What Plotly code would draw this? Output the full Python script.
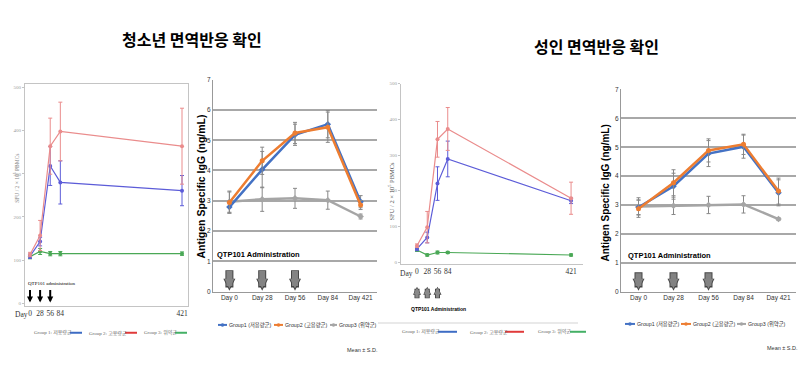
import plotly.graph_objects as go

W, H = 810, 367
def px(x): return x / W
def py(y): return 1 - y / H

# ---------------- data ----------------
days = [0, 28, 56, 84, 421]
day_ticks = ["0", "28", "56", "84", "421"]
day_labels = ["Day 0", "Day 28", "Day 56", "Day 84", "Day 421"]
admin_days = [0, 28, 56]
admin_labels = ["Day 0", "Day 28", "Day 56"]
spot_ticks = [0, 100, 200, 300, 400, 500]
igg_ticks = [0, 1, 2, 3, 4, 5, 6, 7]

# Youth ELISPOT (SFU / 2x10^5 PBMCs)
youth_spot_g1 = [109, 143, 318, 280, 261]
youth_spot_g1_sd = [5, 10, 45, 50, 35]
youth_spot_g2 = [113, 157, 364, 398, 364]
youth_spot_g2_sd = [5, 35, 65, 68, 88]
youth_spot_g3 = [108, 120, 115, 115, 115]
youth_spot_g3_sd = [5, 7, 5, 5, 4]

# Youth IgG (ng/mL)
youth_igg_g1 = [2.79, 4.03, 5.18, 5.53, 2.97]
youth_igg_g1_sd = [0.2, 0.6, 0.35, 0.45, 0.2]
youth_igg_g2 = [2.94, 4.32, 5.24, 5.43, 2.86]
youth_igg_g2_sd = [0.35, 0.45, 0.35, 0.5, 0.15]
youth_igg_g3 = [2.97, 3.05, 3.08, 3.02, 2.48]
youth_igg_g3_sd = [0.35, 0.4, 0.33, 0.3, 0.08]

# Adult ELISPOT
adult_spot_g1 = [37, 69, 220, 289, 172]
adult_spot_g1_sd = [5, 15, 47, 50, 8]
adult_spot_g2 = [46, 98, 344, 373, 179]
adult_spot_g2_sd = [5, 44, 50, 60, 45]
adult_spot_g3 = [34, 20, 27, 27, 20]
adult_spot_g3_sd = [4, 3, 4, 3, 3]

# Adult IgG
adult_igg_g1 = [2.92, 3.65, 4.78, 5.02, 3.42]
adult_igg_g1_sd = [0.25, 0.45, 0.45, 0.4, 0.45]
adult_igg_g2 = [2.87, 3.77, 4.89, 5.10, 3.48]
adult_igg_g2_sd = [0.3, 0.45, 0.4, 0.35, 0.45]
adult_igg_g3 = [2.95, 2.97, 3.00, 3.02, 2.51]
adult_igg_g3_sd = [0.3, 0.3, 0.3, 0.3, 0.05]

spot_legend = ["Group 1: 저용량군", "Group 2: 고용량군", "Group 3: 위약군"]
igg_legend = ["Group1 (저용량군)", "Group2 (고용량군)", "Group3 (위약군)"]

# ---------------- styles ----------------
SPOT_C = ["#5c5cd8", "#ea8c8c", "#4aa856"]
SPOT_LEG_C = ["#3d6cc4", "#e03a3a", "#44b066"]
IGG_C = ["#4472c4", "#ed7d31", "#a5a5a5"]
IGG_SYM = ["diamond", "circle", "diamond"]
SERIF = "Liberation Serif, Noto Sans CJK KR"
SANS = "Liberation Sans, Noto Sans CJK KR"
CJK = "Noto Sans CJK KR"

fig = go.Figure()

def add(x, y, sd, color, xa, ya, width, msize, symbol="circle", ecolor=None):
    fig.add_trace(go.Scatter(
        x=x, y=y, xaxis=xa, yaxis=ya, mode="lines+markers",
        line=dict(color=color, width=width),
        marker=dict(color=color, size=msize, symbol=symbol),
        error_y=dict(type="data", array=sd, visible=True,
                     color=ecolor or color, thickness=1, width=2),
        showlegend=False, hoverinfo="skip"))

# Panel A
for ys, sd, c in [(youth_spot_g3, youth_spot_g3_sd, SPOT_C[2]),
                  (youth_spot_g1, youth_spot_g1_sd, SPOT_C[0]),
                  (youth_spot_g2, youth_spot_g2_sd, SPOT_C[1])]:
    add(days, ys, sd, c, "x", "y", 1.2, 4)
# Panel B
for i, (ys, sd) in enumerate([(youth_igg_g3, youth_igg_g3_sd),
                              (youth_igg_g1, youth_igg_g1_sd),
                              (youth_igg_g2, youth_igg_g2_sd)]):
    idx = [2, 0, 1][i]
    add(day_labels, ys, sd, IGG_C[idx], "x2", "y2", 2.5, 5, IGG_SYM[idx], "#888888")
# Panel C
for ys, sd, c in [(adult_spot_g3, adult_spot_g3_sd, SPOT_C[2]),
                  (adult_spot_g1, adult_spot_g1_sd, SPOT_C[0]),
                  (adult_spot_g2, adult_spot_g2_sd, SPOT_C[1])]:
    add(days, ys, sd, c, "x3", "y3", 1.2, 4)
# Panel D
for i, (ys, sd) in enumerate([(adult_igg_g3, adult_igg_g3_sd),
                              (adult_igg_g1, adult_igg_g1_sd),
                              (adult_igg_g2, adult_igg_g2_sd)]):
    idx = [2, 0, 1][i]
    add(day_labels, ys, sd, IGG_C[idx], "x4", "y4", 2.5, 5, IGG_SYM[idx], "#888888")

frame = "#c4c4c4"
spot_tickfont = dict(family=SERIF, size=7.5, color="#333")
igg_tickfont = dict(family=SANS, size=6.5, color="#333")

layout = dict(
    width=W, height=H, margin=dict(l=0, r=0, t=0, b=0),
    paper_bgcolor="white", plot_bgcolor="white", showlegend=False,
    # Panel A
    xaxis=dict(domain=[px(17), px(180)], range=[-13.85, 437.6], anchor="y",
               tickvals=days, ticktext=day_ticks, tickfont=spot_tickfont, tickangle=0,
               showline=True, mirror=True, linecolor=frame, showgrid=False,
               zeroline=False, ticks=""),
    yaxis=dict(domain=[py(300), py(73)], range=[-7, 509], anchor="x",
               tickvals=spot_ticks, tickfont=dict(family=SERIF, size=5, color="#999"),
               showline=True, mirror=True, linecolor=frame, showgrid=False,
               zeroline=False, ticks="outside", ticklen=2, tickcolor=frame),
    # Panel B
    xaxis2=dict(domain=[px(205), px(369)], type="category", categoryarray=day_labels,
                range=[-0.5, 4.5], anchor="y2", tickfont=igg_tickfont, tickangle=0,
                showline=True, linecolor="#999", linewidth=1, showgrid=False, ticks=""),
    yaxis2=dict(domain=[py(285), py(69)], range=[0, 7], anchor="x2",
                tickvals=igg_ticks, tickfont=igg_tickfont, showgrid=True,
                gridcolor="#a8a8a8", gridwidth=1.6, showline=True, linecolor="#999",
                zeroline=False, ticks=""),
    # Panel C
    xaxis3=dict(domain=[px(393), px(575)], range=[-43.7, 453.6], anchor="y3",
                tickvals=days, ticktext=day_ticks, tickfont=spot_tickfont, tickangle=0,
                showline=True, linecolor=frame, showgrid=False, zeroline=False, ticks=""),
    yaxis3=dict(domain=[py(257), py(73)], range=[-5.5, 500], anchor="x3",
                tickvals=spot_ticks, tickfont=dict(family=SERIF, size=5, color="#999"),
                showline=True, linecolor=frame, showgrid=False, zeroline=False,
                ticks="outside", ticklen=2, tickcolor=frame),
    # Panel D
    xaxis4=dict(domain=[px(613), px(788)], type="category", categoryarray=day_labels,
                range=[-0.5, 4.5], anchor="y4", tickfont=igg_tickfont, tickangle=0,
                showline=True, linecolor="#999", linewidth=1, showgrid=False, ticks=""),
    yaxis4=dict(domain=[py(285), py(79)], range=[0, 7], anchor="x4",
                tickvals=igg_ticks, tickfont=igg_tickfont, showgrid=True,
                gridcolor="#a8a8a8", gridwidth=1.6, showline=True, linecolor="#999",
                zeroline=False, ticks=""),
)
fig.update_layout(**layout)

ann = []
def text(x, y, s, size, family, color="#000", bold=False, xanchor="center", angle=0):
    ann.append(dict(x=px(x), y=py(y), xref="paper", yref="paper", text=("<b>%s</b>" % s) if bold else s,
                    showarrow=False, xanchor=xanchor, yanchor="middle", textangle=angle,
                    font=dict(size=size, family=family, color=color)))

# Titles
text(184, 28, "청소년 면역반응 확인", 16, CJK, bold=True)
text(588, 35, "성인 면역반응 확인", 16, CJK, bold=True)

# Y titles
text(193, 178, "Antigen Specific IgG (ng/mL)", 10.5, "Liberation Sans", bold=True, angle=-90)
text(597, 185, "Antigen Specific IgG (ng/mL)", 10, "Liberation Sans", bold=True, angle=-90)
text(8, 170, "SFU / 2 × 10<sup>5</sup> PBMCs", 5.5, SERIF, color="#888", angle=-90)
text(383, 183, "SFU / 2 × 10<sup>5</sup> PBMCs", 6.5, SERIF, color="#555", angle=-90)

# Day prefixes
text(13, 308, "Day", 7.5, SERIF, color="#333")
text(398, 267, "Day", 7.5, SERIF, color="#333")

# Administration labels
text(18, 277, "QTP101 administration", 5, SERIF, xanchor="left")
text(250, 247, "QTP101 Administration", 7.5, SANS, bold=True)
text(661, 248, "QTP101 Administration", 7.5, SANS, bold=True)
text(430, 303, "QTP101 Administration", 5, SANS, bold=True)

# Mean ± S.D.
text(372, 345, "Mean ± S.D.", 5.5, SANS, color="#333", xanchor="right")
text(792, 343, "Mean ± S.D.", 5.5, SANS, color="#333", xanchor="right")

# Arrows: panel B and D (gray block arrows, downward)
for xa, ya, length in [("x2", "y2", 22), ("x4", "y4", 20)]:
    for lab in admin_labels:
        ann.append(dict(x=lab, y=0.03, xref=xa, yref=ya, ax=0, ay=-length, text="",
                        showarrow=True, arrowhead=2, arrowwidth=8, arrowsize=0.3,
                        arrowcolor="#454545"))
        ann.append(dict(x=lab, y=0.1, xref=xa, yref=ya, ax=0, ay=-length + 3, text="",
                        showarrow=True, arrowhead=2, arrowwidth=6, arrowsize=0.33,
                        arrowcolor="#838383"))
# Panel A: black thin arrows
for d in admin_days:
    ann.append(dict(x=d, y=2, xref="x", yref="y", ax=0, ay=-14, text="",
                    showarrow=True, arrowhead=2, arrowwidth=2, arrowsize=0.6,
                    arrowcolor="#000"))
# Panel C: gray upward arrows below axis
for d in admin_days:
    ann.append(dict(x=d, y=py(280), xref="x3", yref="paper", ax=0, ay=13, text="",
                    showarrow=True, arrowhead=2, arrowwidth=5, arrowsize=0.32,
                    arrowcolor="#3c3c3c"))
    ann.append(dict(x=d, y=py(281.2), xref="x3", yref="paper", ax=0, ay=11.5, text="",
                    showarrow=True, arrowhead=2, arrowwidth=3.4, arrowsize=0.38,
                    arrowcolor="#8a8a8a"))

shapes = []
def hline(x0, x1, y, color, width):
    shapes.append(dict(type="line", xref="paper", yref="paper", x0=px(x0), x1=px(x1),
                       y0=py(y), y1=py(y), line=dict(color=color, width=width)))

# Legends ELISPOT panels
for (tx, lx0, lx1), lab, c in zip([(24, 62, 74), (79, 117, 129), (134, 167, 179)],
                                 spot_legend, SPOT_LEG_C):
    text(tx, 327, lab, 5, SERIF, color="#666", xanchor="left")
    hline(lx0, lx1, 327, c, 2)
for (tx, lx0, lx1), lab, c in zip([(392, 430, 449), (460, 497, 516), (528, 562, 578)],
                                 spot_legend, SPOT_LEG_C):
    text(tx, 326, lab, 5, SERIF, color="#666", xanchor="left")
    hline(lx0, lx1, 326, c, 2)
hline(370, 570, 317, "#e2e2e2", 1.5)

# Legends IgG panels
def igg_leg(items, y, size):
    for (sx0, sx1, tx), lab, c in zip(items, igg_legend, IGG_C):
        hline(sx0, sx1, y, c, 2)
        cx = (sx0 + sx1) / 2
        shapes.append(dict(type="circle", xref="paper", yref="paper",
                           x0=px(cx - 1.8), x1=px(cx + 1.8), y0=py(y + 1.8), y1=py(y - 1.8),
                           fillcolor=c, line=dict(color=c, width=0)))
        text(tx, y, lab, size, SANS, color="#333", xanchor="left")
igg_leg([(210, 219, 219), (266, 275, 275), (322, 329, 329)], 319, 5.3)
igg_leg([(617, 627, 627), (673, 683, 683), (729, 738, 738)], 318, 5.3)

fig.update_layout(annotations=ann, shapes=shapes)
fig.write_html("out.html")
